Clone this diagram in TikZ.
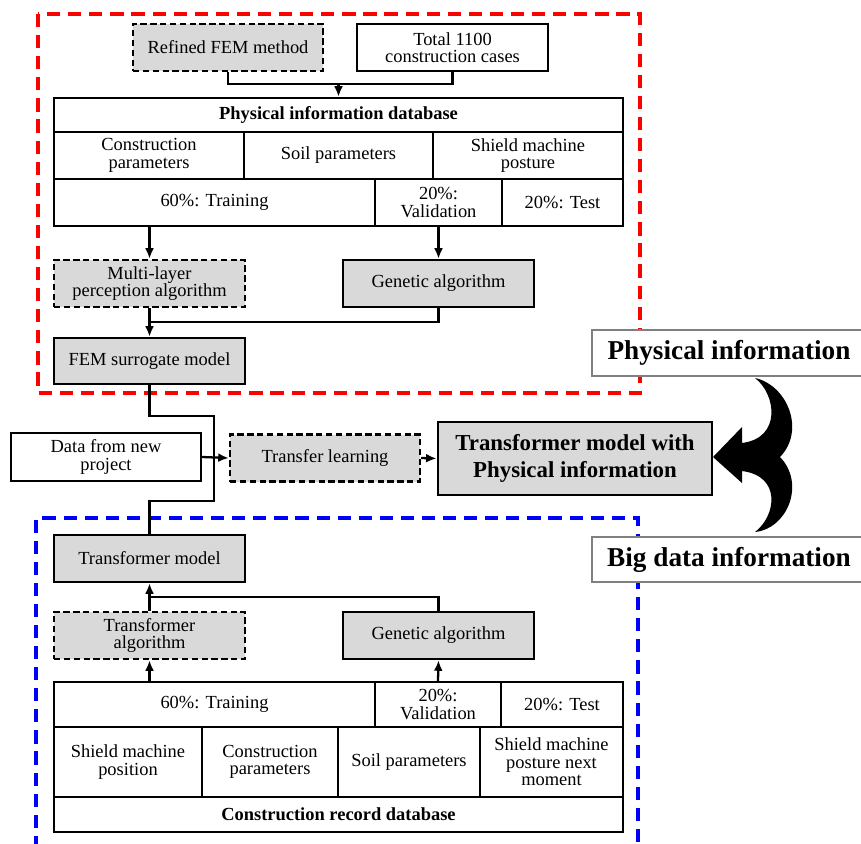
\documentclass[tikz,border=0pt]{standalone}
\usepackage{fontspec}
\setmainfont{Liberation Serif}
\usetikzlibrary{arrows.meta}

\begin{document}
\begin{tikzpicture}[x=0.02cm,y=-0.02cm,
  box/.style={draw,line width=1.4pt,inner sep=0pt,align=center,font=\fontsize{10.5}{10}\selectfont},
  grey/.style={box,fill=black!15},
  dbox/.style={grey,dash pattern=on 3.6pt off 2pt},
  cell/.style={box,fill=white},
  line/.style={line width=1.3pt},
  arr/.style={line,-{Latex[length=6pt,width=5pt]}},
  tag/.style={draw=black!50,line width=0.7pt,fill=white,inner sep=0pt,font=\fontsize{15.5}{16}\selectfont\bfseries}
]
\useasboundingbox (0,0) rectangle (861,843);

% dashed frames
\draw[red,line width=1.8pt,dash pattern=on 7.5pt off 4.5pt] (38,14) rectangle (640,393);
\draw[blue,line width=1.8pt,dash pattern=on 7.5pt off 4.5pt] (36,870) -- (36,518) -- (638,518) -- (638,870);

% physical part
\node[dbox,minimum width=3.8cm,minimum height=0.94cm] (refined) at (228,47.5) {Refined FEM method};
\node[cell,minimum width=3.82cm,minimum height=0.94cm] (total) at (452.5,47.5) {Total 1100\\construction cases};

\node[cell,minimum width=11.38cm,minimum height=0.68cm,font=\fontsize{10.5}{10}\selectfont\bfseries] (phydb) at (338.5,115) {Physical information database};
\node[cell,minimum width=3.8cm,minimum height=0.94cm] (consp) at (149,155.5) {Construction\\parameters};
\node[cell,minimum width=3.78cm,minimum height=0.94cm] (soilp) at (338.5,155.5) {Soil parameters};
\node[cell,minimum width=3.8cm,minimum height=0.94cm] (posture) at (528,155.5) {Shield machine\\posture};
\node[cell,minimum width=6.42cm,minimum height=0.94cm] (train1) at (214.5,202.5) {60\%: Training};
\node[cell,minimum width=2.54cm,minimum height=0.94cm] (valid1) at (438.5,202.5) {20\%:\\Validation};
\node[cell,minimum width=2.42cm,minimum height=0.94cm] (test1) at (562.5,202.5) {20\%: Test};

\node[dbox,minimum width=3.82cm,minimum height=0.94cm] (mlp) at (149.5,283.5) {Multi-layer\\perception algorithm};
\node[grey,minimum width=3.82cm,minimum height=0.94cm] (ga1) at (438.5,283.5) {Genetic algorithm};
\node[grey,minimum width=3.82cm,minimum height=0.92cm] (fem) at (149.5,361) {FEM surrogate model};

\coordinate (j1) at (338.5,84);
\coordinate (j2) at (149.5,322);
\draw[line] (refined.south) |- (j1) -| (total.south);
\draw[arr] (j1) -- (phydb.north);
\draw[arr] (mlp.north |- train1.south) -- (mlp.north);
\draw[arr] (valid1.south) -- (ga1.north);
\draw[arr] (mlp.south) -- (fem.north);
\draw[line] (ga1.south) |- (j2);

% middle
\node[cell,minimum width=3.8cm,minimum height=0.96cm] (newdata) at (106,457) {Data from new\\project};
\node[dbox,minimum width=3.8cm,minimum height=0.94cm] (transfer) at (325,458) {Transfer learning};
\node[grey,line width=1.6pt,minimum width=5.48cm,minimum height=1.46cm,font=\fontsize{13}{15}\selectfont\bfseries] (tpi) at (575,458.5) {Transformer model with\\Physical information};

% big data part
\node[grey,minimum width=3.82cm,minimum height=0.94cm] (tm) at (149.5,558.5) {Transformer model};
\node[dbox,minimum width=3.82cm,minimum height=0.94cm] (talg) at (149.5,635.5) {Transformer\\algorithm};
\node[grey,minimum width=3.82cm,minimum height=0.94cm] (ga2) at (438.5,635.5) {Genetic algorithm};

\node[cell,minimum width=6.42cm,minimum height=0.9cm] (train2) at (214.5,704.5) {60\%: Training};
\node[cell,minimum width=2.52cm,minimum height=0.9cm] (valid2) at (438,704.5) {20\%:\\Validation};
\node[cell,minimum width=2.44cm,minimum height=0.9cm] (test2) at (562,704.5) {20\%: Test};
\node[cell,minimum width=2.96cm,minimum height=1.4cm] (pos2) at (128,762) {Shield machine\\position};
\node[cell,minimum width=2.72cm,minimum height=1.4cm] (consp2) at (270,762) {Construction\\parameters};
\node[cell,minimum width=2.84cm,minimum height=1.4cm] (soil2) at (409,762) {Soil parameters};
\node[cell,minimum width=2.86cm,minimum height=1.4cm] (posture2) at (551.5,762) {Shield machine\\posture next\\moment};
\node[cell,minimum width=11.38cm,minimum height=0.7cm,font=\fontsize{10.5}{10}\selectfont\bfseries] (crdb) at (338.5,814.5) {Construction record database};

\coordinate (j3) at (214,458);
\coordinate (b1) at (214,416);
\coordinate (b2) at (214,501);
\coordinate (j4) at (149.5,597);
\draw[line] (fem.south) |- (b1) -- (j3);
\draw[line] (tm.north) |- (b2) -- (j3);
\draw[arr] (newdata.east) -- (transfer.west);
\draw[arr] (transfer.east) -- (tpi.west);
\draw[arr] (talg.north) -- (tm.south);
\draw[line] (ga2.north) |- (j4);
\draw[arr] (talg.south |- train2.north) -- (talg.south);
\draw[arr] (valid2.north) -- (ga2.south);

% side tags and the joining arrow
\node[tag,minimum width=5.48cm,minimum height=0.92cm] (phyinfo) at (729,353) {Physical information};
\node[tag,minimum width=5.48cm,minimum height=0.9cm] (bigdata) at (729,559.5) {Big data information};

\fill (755,378) .. controls (787,385) and (806,430) .. (780,457)
  .. controls (806,484) and (787,529) .. (755,532)
  .. controls (776,516) and (782,476) .. (742,471) -- (742,483) -- (713,457) -- (742,427) -- (742,443)
  .. controls (782,438) and (776,394) .. (755,378) -- cycle;

\end{tikzpicture}
\end{document}
